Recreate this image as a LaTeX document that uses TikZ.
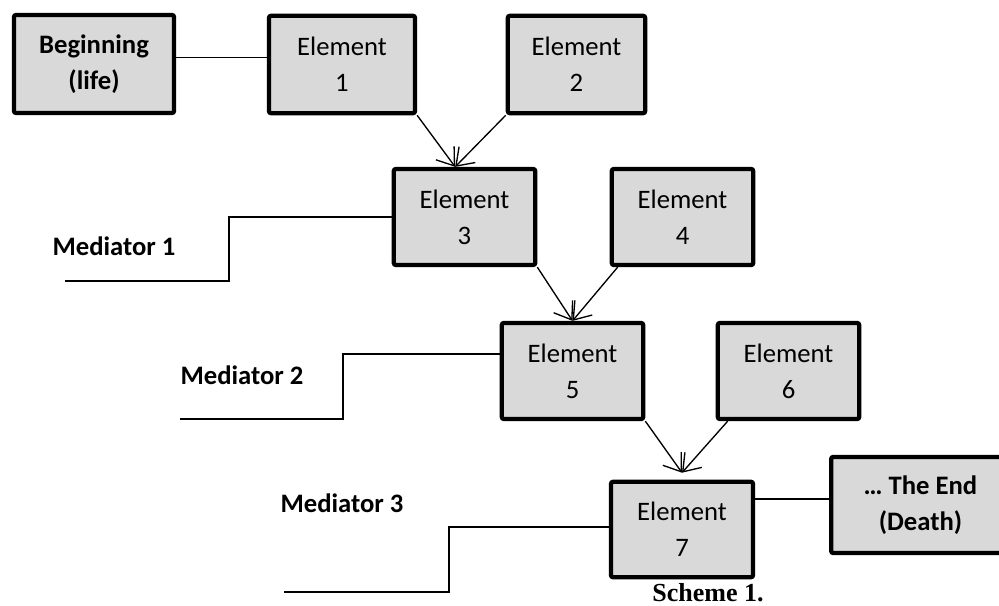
\documentclass[tikz,border=0pt]{standalone}
\usepackage{fontspec}
\setmainfont{Carlito}
\newfontfamily\captionfont{Liberation Serif}
\usetikzlibrary{arrows.meta,calc}

\tikzset{every picture/.style={line width=1pt}}
\tikzset{
  elembox/.style={draw, line width=3.2pt, fill=boxgray, rounded corners=1.5pt,
    minimum width=106pt, minimum height=72pt, inner sep=0pt, align=center,
    font=\fontsize{20}{27}\selectfont},
  endbox/.style={elembox, font=\fontsize{20}{27}\selectfont\bfseries},
  medlabel/.style={inner sep=0pt, font=\fontsize{20}{23}\selectfont\bfseries},
  link/.style={line width=1pt},
  flow/.style={line width=1pt, -{Straight Barb[length=12pt,width=17pt,line width=1pt]}}
}
\definecolor{boxgray}{HTML}{D9D9D9}

\begin{document}
\begin{tikzpicture}[x=0.75pt,y=0.75pt,yscale=-1,xscale=1]
\useasboundingbox (0,0) rectangle (999,606);
\clip (0,0) rectangle (999,606);

%Boxes
\node [endbox, minimum width=120pt, minimum height=73.5pt] (begin) at (94,64) {Beginning\\(life)};
\node [elembox, minimum width=109.5pt, minimum height=73pt] (e1) at (342,64.5) {Element\\1};
\node [elembox, minimum width=103pt, minimum height=73pt] (e2) at (576.5,64.5) {Element\\2};
\node [elembox] (e3) at (464.5,217) {Element\\3};
\node [elembox] (e4) at (682.5,217) {Element\\4};
\node [elembox] (e5) at (572.5,371) {Element\\5};
\node [elembox] (e6) at (788.5,371) {Element\\6};
\node [elembox, minimum width=106.5pt, minimum height=71.5pt] (e7) at (682,529.5) {Element\\7};
\node [endbox, minimum width=134pt] (end) at (920.5,505) {… The End\\(Death)};

%Mediators
\node [medlabel] (m1) at (114,246) {Mediator 1};
\node [medlabel] (m2) at (242,375) {Mediator 2};
\node [medlabel] (m3) at (342,503) {Mediator 3};
\coordinate (m1end) at (65,281);
\coordinate (m1step) at (229,216);
\coordinate (m2end) at (180,419);
\coordinate (m2step) at (343,354);
\coordinate (m3end) at (284,592);
\coordinate (m3step) at (449,527);

%Straight Lines
\draw [link] (begin.east) ++(0,-6.5) coordinate (beginout) -- (beginout -| e1.west);
\draw [link] (e7.east |- end.west) ++(0,-6) coordinate (e7out) -- (e7out -| end.west);
\draw [link] (m1end) -| (m1step) |- (e3.west);
\draw [link] (m2end) -| (m2step) |- (e5.west |- m2step);
\draw [link] (m3end) -| (m3step) |- (e7.west |- m3step);

%Arrows
\draw [flow] (e1.south east) -- ([xshift=-7pt]e3.north);
\draw [flow] (e2.south west) -- ([xshift=-7pt]e3.north);
\draw [flow] (e3.south east) -- (e5.north);
\draw [flow] ([xshift=6pt]e4.south west) -- (e5.north);
\draw [flow] (e5.south east) -- ($(e7.north)+(0,-7)$);
\draw [flow] ([xshift=9pt]e6.south west) -- ($(e7.north)+(0,-7)$);

% Text Node
\node [inner sep=0pt, font=\captionfont\fontsize{19.5}{23}\selectfont\bfseries] (caption) at (708,593) {Scheme 1.};

\end{tikzpicture}
\end{document}
